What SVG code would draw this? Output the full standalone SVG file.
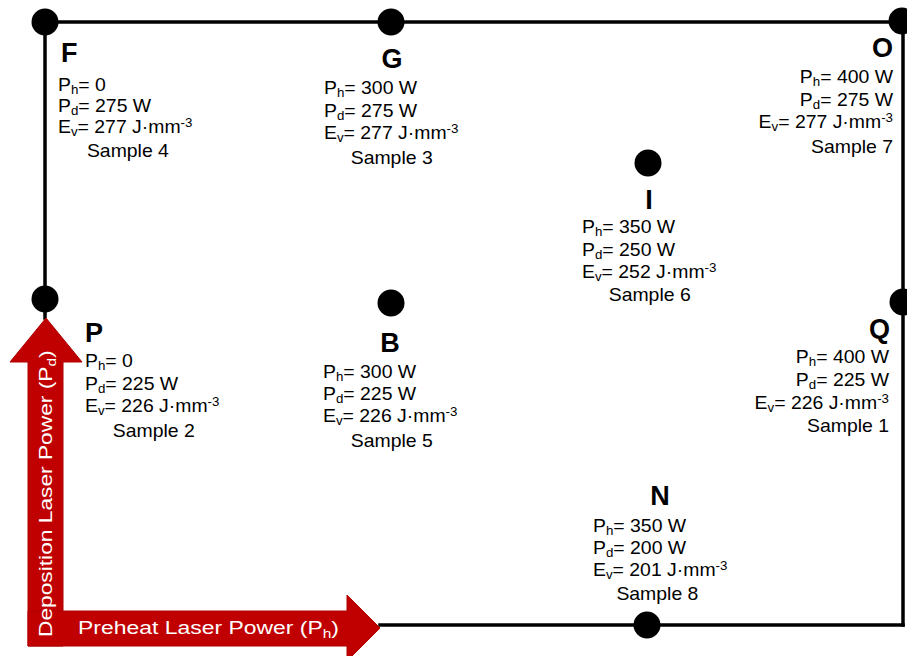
<svg xmlns="http://www.w3.org/2000/svg" width="907" height="656" viewBox="0 0 907 656">
<style>
.bg{fill:#fff}
.edge{stroke:#000;stroke-width:3.5;fill:none;stroke-linecap:square}
.dot{fill:#000}
.lbl{font-family:"Liberation Sans",Arial,sans-serif;font-weight:bold;font-size:27px;fill:#000}
.t{font-family:"Liberation Sans",Arial,sans-serif;font-size:17.5px;fill:#000}
.s{font-size:12px}
.axis{fill:#C00000;stroke:#B00000;stroke-width:1}
.at{font-family:"Liberation Sans",Arial,sans-serif;font-size:18.5px;fill:#fff}
.at .s{font-size:12.5px}
</style>
<rect class="bg" x="0" y="0" width="907" height="656"/>
<g id="connectors">
<line class="edge" x1="45" y1="22" x2="391" y2="22"/>
<line class="edge" x1="391" y1="22" x2="902" y2="22"/>
<line class="edge" x1="903" y1="22" x2="903" y2="302"/>
<line class="edge" x1="903" y1="302" x2="903" y2="625"/>
<line class="edge" x1="903" y1="625" x2="647" y2="625"/>
<line class="edge" x1="647" y1="625" x2="380" y2="625"/>
<line class="edge" x1="45" y1="22" x2="45" y2="318"/>
</g>
<g id="axes">
<polygon class="axis" points="46,318 82,362 63,362 63,646 28,646 28,362 10,362"/>
<polygon class="axis" points="28,611 347,611 347,595 380,628 347,661 347,646 28,646"/>
<text class="at" transform="translate(78,634) scale(1.24,1)">Preheat Laser Power (P<tspan class="s" dy="4">h</tspan><tspan dy="-4">)</tspan></text>
<text class="at" transform="translate(52,637) rotate(-90) scale(1.23,1)">Deposition Laser Power (P<tspan class="s" dy="4">d</tspan><tspan dy="-4">)</tspan></text>
</g>
<g id="node-F">
<circle class="dot" cx="45" cy="22" r="13.5"/>
<text class="lbl" x="61" y="62">F</text>
<g transform="translate(58,0) scale(1.11,1)">
<text class="t" y="91">P<tspan class="s" dy="3">h</tspan><tspan dy="-3">= 0</tspan></text>
<text class="t" y="112">P<tspan class="s" dy="3">d</tspan><tspan dy="-3">= 275 W</tspan></text>
<text class="t" y="133">E<tspan class="s" dy="3">v</tspan><tspan dy="-3">= 277 J·mm</tspan><tspan class="s" dy="-6">-3</tspan></text>
<text class="t" x="63" y="157" text-anchor="middle">Sample 4</text>
</g>
</g>
<g id="node-G">
<circle class="dot" cx="391" cy="22" r="13.5"/>
<text class="lbl" x="392" y="68" text-anchor="middle">G</text>
<g transform="translate(324,0) scale(1.11,1)">
<text class="t" y="94">P<tspan class="s" dy="3">h</tspan><tspan dy="-3">= 300 W</tspan></text>
<text class="t" y="117">P<tspan class="s" dy="3">d</tspan><tspan dy="-3">= 275 W</tspan></text>
<text class="t" y="139">E<tspan class="s" dy="3">v</tspan><tspan dy="-3">= 277 J·mm</tspan><tspan class="s" dy="-6">-3</tspan></text>
<text class="t" x="61" y="164" text-anchor="middle">Sample 3</text>
</g>
</g>
<g id="node-O">
<circle class="dot" cx="902" cy="21" r="13.5"/>
<text class="lbl" x="893" y="57" text-anchor="end">O</text>
<g transform="translate(893,0) scale(1.11,1)">
<text class="t" y="83" text-anchor="end">P<tspan class="s" dy="3">h</tspan><tspan dy="-3">= 400 W</tspan></text>
<text class="t" y="106" text-anchor="end">P<tspan class="s" dy="3">d</tspan><tspan dy="-3">= 275 W</tspan></text>
<text class="t" y="128" text-anchor="end">E<tspan class="s" dy="3">v</tspan><tspan dy="-3">= 277 J·mm</tspan><tspan class="s" dy="-6">-3</tspan></text>
<text class="t" y="153" text-anchor="end">Sample  7</text>
</g>
</g>
<g id="node-I">
<circle class="dot" cx="648" cy="163" r="13.5"/>
<text class="lbl" x="649" y="209" text-anchor="middle">I</text>
<g transform="translate(582,0) scale(1.11,1)">
<text class="t" y="233">P<tspan class="s" dy="3">h</tspan><tspan dy="-3">= 350 W</tspan></text>
<text class="t" y="256">P<tspan class="s" dy="3">d</tspan><tspan dy="-3">= 250 W</tspan></text>
<text class="t" y="278">E<tspan class="s" dy="3">v</tspan><tspan dy="-3">= 252 J·mm</tspan><tspan class="s" dy="-6">-3</tspan></text>
<text class="t" x="61" y="301" text-anchor="middle">Sample 6</text>
</g>
</g>
<g id="node-P">
<circle class="dot" cx="45" cy="299" r="13.5"/>
<text class="lbl" x="85" y="342">P</text>
<g transform="translate(85,0) scale(1.11,1)">
<text class="t" y="367">P<tspan class="s" dy="3">h</tspan><tspan dy="-3">= 0</tspan></text>
<text class="t" y="390">P<tspan class="s" dy="3">d</tspan><tspan dy="-3">= 225 W</tspan></text>
<text class="t" y="412">E<tspan class="s" dy="3">v</tspan><tspan dy="-3">= 226 J·mm</tspan><tspan class="s" dy="-6">-3</tspan></text>
<text class="t" x="62" y="437" text-anchor="middle">Sample 2</text>
</g>
</g>
<g id="node-B">
<circle class="dot" cx="391" cy="303" r="13.5"/>
<text class="lbl" x="390" y="352" text-anchor="middle">B</text>
<g transform="translate(323,0) scale(1.11,1)">
<text class="t" y="378">P<tspan class="s" dy="3">h</tspan><tspan dy="-3">= 300 W</tspan></text>
<text class="t" y="400">P<tspan class="s" dy="3">d</tspan><tspan dy="-3">= 225 W</tspan></text>
<text class="t" y="422">E<tspan class="s" dy="3">v</tspan><tspan dy="-3">= 226 J·mm</tspan><tspan class="s" dy="-6">-3</tspan></text>
<text class="t" x="62" y="447" text-anchor="middle">Sample 5</text>
</g>
</g>
<g id="node-Q">
<circle class="dot" cx="903" cy="302" r="13.5"/>
<text class="lbl" x="890" y="338" text-anchor="end">Q</text>
<g transform="translate(889,0) scale(1.11,1)">
<text class="t" y="363" text-anchor="end">P<tspan class="s" dy="3">h</tspan><tspan dy="-3">= 400 W</tspan></text>
<text class="t" y="386" text-anchor="end">P<tspan class="s" dy="3">d</tspan><tspan dy="-3">= 225 W</tspan></text>
<text class="t" y="409" text-anchor="end">E<tspan class="s" dy="3">v</tspan><tspan dy="-3">= 226 J·mm</tspan><tspan class="s" dy="-6">-3</tspan></text>
<text class="t" y="432" text-anchor="end">Sample 1</text>
</g>
</g>
<g id="node-N">
<circle class="dot" cx="647" cy="625" r="13.5"/>
<text class="lbl" x="660" y="505" text-anchor="middle">N</text>
<g transform="translate(593,0) scale(1.11,1)">
<text class="t" y="532">P<tspan class="s" dy="3">h</tspan><tspan dy="-3">= 350 W</tspan></text>
<text class="t" y="554">P<tspan class="s" dy="3">d</tspan><tspan dy="-3">= 200 W</tspan></text>
<text class="t" y="576">E<tspan class="s" dy="3">v</tspan><tspan dy="-3">= 201 J·mm</tspan><tspan class="s" dy="-6">-3</tspan></text>
<text class="t" x="58" y="600" text-anchor="middle">Sample 8</text>
</g>
</g>
</svg>
